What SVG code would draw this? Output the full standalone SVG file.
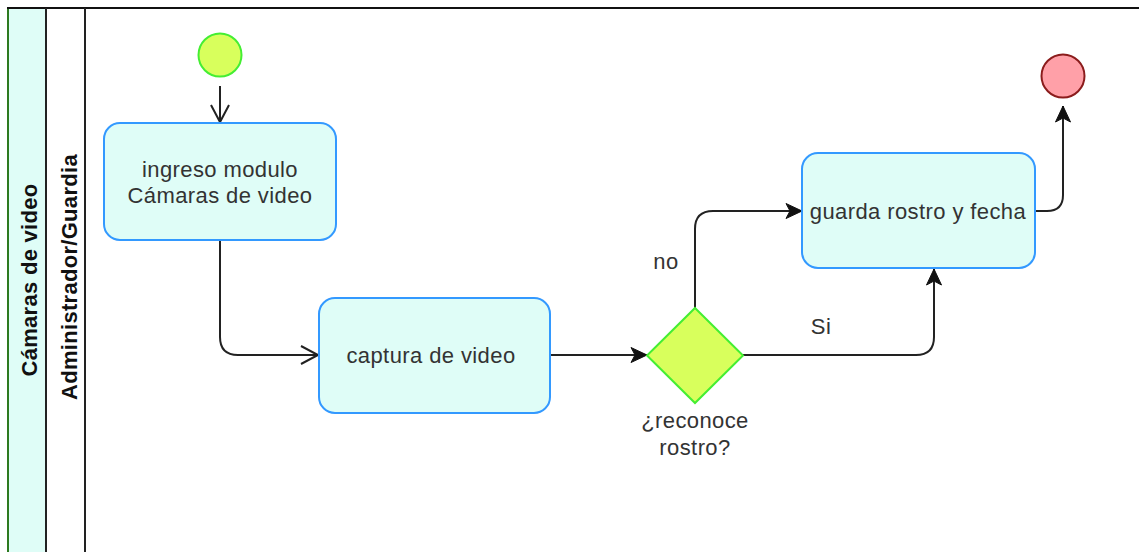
<svg xmlns="http://www.w3.org/2000/svg" width="1139" height="552" viewBox="0 0 1139 552">
<defs>
<style>
.t{font-family:"Liberation Sans",Arial,sans-serif;font-size:22px;letter-spacing:0.4px;fill:#333333;text-anchor:middle}
.h{font-family:"Liberation Sans",Arial,sans-serif;font-size:22px;letter-spacing:0.3px;font-weight:bold;fill:#111111;text-anchor:middle}
.box{fill:#dffdf7;stroke:#3399ff;stroke-width:2}
.edge{fill:none;stroke:#222222;stroke-width:2}
</style>
<marker id="open" markerUnits="userSpaceOnUse" markerWidth="20" markerHeight="20" refX="17" refY="9" orient="auto" overflow="visible">
<path d="M0,0 L17,9 L0,18" fill="none" stroke="#222222" stroke-width="2"/>
</marker>
<marker id="block" markerUnits="userSpaceOnUse" markerWidth="18" markerHeight="16" refX="16" refY="7.5" orient="auto" overflow="visible">
<path d="M0,0 L16,7.5 L0,15 L4,7.5 Z" fill="#111111" stroke="#111111" stroke-width="1"/>
</marker>
</defs>
<rect width="1139" height="552" fill="#ffffff"/>
<g id="pool">
<rect x="8" y="8" width="38" height="560" fill="#dffdf7" stroke="none"/>
<line x1="8" y1="8" x2="8" y2="560" stroke="#2d7a1f" stroke-width="2"/>
<line x1="7" y1="8" x2="1139" y2="8" stroke="#111111" stroke-width="2"/>
<line x1="46" y1="8" x2="46" y2="560" stroke="#222222" stroke-width="2"/>
<line x1="85" y1="8" x2="85" y2="560" stroke="#222222" stroke-width="2"/>
<text class="h" transform="translate(37,280) rotate(-90)">Cámaras de video</text>
<text class="h" transform="translate(77,277) rotate(-90)">Administrador/Guardia</text>
</g>
<g id="connectors">
<path class="edge" d="M220,86 L220,122" marker-end="url(#open)"/>
<path class="edge" d="M220,240 L220,337 Q220,355 238,355 L318,355" marker-end="url(#open)"/>
<path class="edge" d="M550,355 L647,355" marker-end="url(#block)"/>
<path class="edge" d="M695,308 L695,229 Q695,211 713,211 L802,211" marker-end="url(#block)"/>
<path class="edge" d="M743,355 L916,355 Q934,355 934,337 L934,269" marker-end="url(#block)"/>
<path class="edge" d="M1035,211 L1047,211 Q1063,211 1063,195 L1063,106" marker-end="url(#block)"/>
<text class="t" x="666" y="269">no</text>
<text class="t" x="821" y="334">Si</text>
</g>
<g id="start">
<circle cx="220" cy="55" r="21.5" fill="#d8ff5c" stroke="#44ee33" stroke-width="2"/>
</g>
<g id="ingreso">
<rect class="box" x="104" y="123" width="232" height="117" rx="16"/>
<text class="t" x="220" y="177">ingreso modulo</text>
<text class="t" x="220" y="203">Cámaras de video</text>
</g>
<g id="captura">
<rect class="box" x="319" y="298" width="231" height="115" rx="16"/>
<text class="t" x="431" y="363">captura de video</text>
</g>
<g id="decision">
<path d="M695,308 L743,355.5 L695,403 L647,355.5 Z" fill="#d8ff5c" stroke="#44ee33" stroke-width="2"/>
<text class="t" x="695" y="428">¿reconoce</text>
<text class="t" x="695" y="455">rostro?</text>
</g>
<g id="guarda">
<rect class="box" x="802" y="153" width="233" height="115" rx="16"/>
<text class="t" x="918" y="219">guarda rostro y fecha</text>
</g>
<g id="end">
<circle cx="1063" cy="76" r="21.5" fill="#ffa0a8" stroke="#8b1c1c" stroke-width="2"/>
</g>
</svg>
